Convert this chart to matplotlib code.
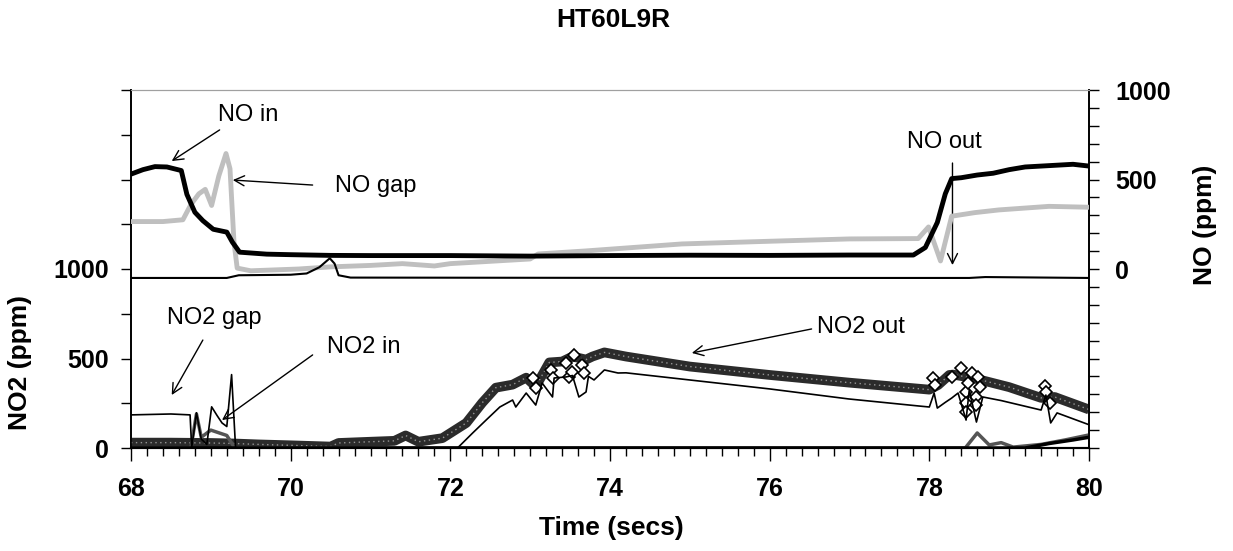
import matplotlib
matplotlib.use('Agg')
import matplotlib.pyplot as plt
from matplotlib import font_manager
from matplotlib.ticker import MultipleLocator, FixedLocator

# NO (ppm), right axis - upper trace
no_t = [68.0, 68.15, 68.3, 68.45, 68.63, 68.7, 68.8, 68.9, 69.03, 69.2, 69.27, 69.36, 69.7,
        70.0, 70.5, 71.0, 72.0, 73.0, 74.0, 75.0, 76.0, 77.0, 77.8, 77.95, 78.1, 78.2, 78.28,
        78.4, 78.6, 78.8, 79.0, 79.2, 79.4, 79.6, 79.8, 80.0]
no_in_out = [530, 555, 572, 570, 550, 417, 317, 270, 222, 206, 150, 94, 83,
             80, 76, 75, 75, 72, 75, 77, 76, 78, 78, 120, 260, 420, 505,
             510, 525, 535, 555, 570, 575, 580, 585, 575]

gap_t = [68.0, 68.4, 68.65, 68.75, 68.85, 68.93, 69.01, 69.1, 69.19, 69.24, 69.29, 69.33,
         69.5, 70.1, 70.5, 71.0, 71.4, 71.8, 72.0, 73.0, 73.1, 73.7, 74.9, 76.0, 77.0, 77.86,
         77.99, 78.14, 78.28, 78.57, 78.87, 79.5, 80.0]
no_gap = [265, 265, 275, 360, 420, 445, 355, 520, 645, 560, 150, 5,
          -10, 0, 12, 20, 30, 17, 30, 56, 84, 101, 140, 155, 168, 170,
          235, 45, 295, 315, 330, 350, 345]

base_t = [68.0, 69.2, 69.35, 70.0, 70.2, 70.36, 70.49, 70.55, 70.6, 70.75, 75.0, 78.5, 78.7, 80.0]
no_base = [-50, -50, -35, -32, -25, 10, 60, 30, -35, -48, -50, -50, -45, -50]

# NO2 (ppm), left axis - lower traces
out_t = [68.0, 68.5, 69.0, 69.3, 69.6, 70.0, 70.5, 70.6, 71.0, 71.3, 71.44, 71.6, 71.9, 72.2,
         72.4, 72.57, 72.78, 72.95, 73.07, 73.24, 73.4, 73.53, 73.7, 73.78, 73.93, 74.2, 75.0,
         76.0, 77.0, 77.9, 78.0, 78.11, 78.25, 78.3, 78.55, 78.7, 79.0, 79.4, 79.57, 80.0]
no2_out = [30, 30, 28, 25, 20, 15, 8, 28, 35, 40, 70, 35, 55, 140,
           253, 337, 354, 393, 343, 478, 483, 511, 494, 511, 534, 511, 455,
           408, 365, 330, 326, 352, 408, 410, 390, 374, 340, 280, 285, 215]

scat_t = [73.03, 73.07, 73.26, 73.28, 73.45, 73.49, 73.53, 73.55, 73.65, 73.68,
          78.05, 78.07, 78.28, 78.4, 78.46, 78.46, 78.46, 78.49, 78.53, 78.59, 78.59, 78.61,
          78.64, 79.45, 79.46, 79.51]
scat_v = [393, 335, 436, 391, 475, 397, 425, 520, 464, 419,
          391, 352, 397, 447, 313, 251, 200, 363, 419, 285, 240, 397,
          341, 346, 313, 251]

thin_t = [68.0, 68.5, 68.74, 68.76, 68.82, 68.88, 68.95, 69.01, 69.08, 69.14, 69.2, 69.26,
          69.31, 72.09, 72.28, 72.45, 72.62, 72.78, 72.82, 72.95, 73.07, 73.15, 73.28, 73.3,
          73.45, 73.53, 73.61, 73.7, 73.73, 73.8, 73.93, 74.1, 74.2, 75.0, 76.0, 76.99, 77.86,
          78.0, 78.06, 78.1, 78.2, 78.28, 78.36, 78.46, 78.5, 78.59, 78.67, 78.9, 79.4, 79.46,
          79.52, 79.6, 80.0]
no2_thin = [185, 190, 185, 0, 197, 50, 20, 230, 180, 140, 120, 410,
            0, 0, 84, 157, 229, 268, 229, 307, 240, 363, 285, 391,
            397, 405, 285, 313, 400, 380, 436, 419, 420, 380, 330, 274, 235,
            229, 307, 223, 255, 279, 307, 156, 324, 145, 285, 265, 212, 296,
            140, 196, 130]

in_t = [68.0, 68.75, 68.82, 68.88, 69.0, 69.1, 69.2, 69.3, 78.45, 78.6, 78.75, 78.9, 79.05,
        79.4, 79.7, 80.0]
no2_in = [0, 0, 190, 60, 100, 85, 70, 0, 0, 84, 17, 30, 5, 20, 45, 73]

zero_t = [68.0, 79.2, 79.5, 79.8, 80.0]
no2_zero = [0, 0, 25, 45, 60]

names = {f.name for f in font_manager.fontManager.ttflist}
if 'Liberation Sans Narrow' in names:
    note_font = dict(family='Liberation Sans Narrow', size=20)
else:
    note_font = dict(family='Liberation Sans', size=17)

plt.rcParams['font.family'] = ['Liberation Sans', 'DejaVu Sans']

fig = plt.figure(figsize=(12.33, 5.51), dpi=100)
ax = fig.add_axes([131 / 1233, 103 / 551, 958 / 1233, 358 / 551])
ax2 = ax.twinx()

ax.set_xlim(68, 80)
ax.set_ylim(0, 2000)
ax2.set_ylim(-1000, 1000)

# lower panel, NO2
ax.plot(out_t, no2_out, color='#2b2b2b', lw=7, solid_capstyle='butt', zorder=3)
ax.plot(out_t, no2_out, color='white', lw=1, ls=(0, (1, 2.5)), alpha=0.5, zorder=4)
ax.plot(scat_t, scat_v, ls='none', marker='D', ms=6, mfc='white', mec='black', mew=1.2, zorder=5)
ax.plot(thin_t, no2_thin, color='black', lw=1.2, zorder=6)
ax.plot(in_t, no2_in, color='#555555', lw=2.5, zorder=5)
ax.plot(zero_t, no2_zero, color='black', lw=2.5, zorder=6)

# upper panel, NO
ax2.plot(gap_t, no_gap, color='#bfbfbf', lw=3.5, zorder=3)
ax2.plot(no_t, no_in_out, color='black', lw=3.5, zorder=4)
ax2.plot(base_t, no_base, color='black', lw=1.5, zorder=5)

# ticks
ax.xaxis.set_major_locator(MultipleLocator(2))
ax.xaxis.set_minor_locator(MultipleLocator(0.2))
ax.tick_params(axis='x', which='major', length=9, width=1, direction='out', labelsize=18, pad=12)
ax.tick_params(axis='x', which='minor', length=6, width=1, direction='out')
ax.yaxis.set_major_locator(FixedLocator([0, 500, 1000]))
ax.yaxis.set_minor_locator(FixedLocator([250, 750, 1250, 1500, 1750, 2000]))
ax.tick_params(axis='y', which='both', length=7, width=1, direction='out', labelsize=18, pad=9)
ax2.yaxis.set_major_locator(FixedLocator([0, 500, 1000]))
ax2.yaxis.set_minor_locator(MultipleLocator(100))
ax2.tick_params(axis='y', which='both', length=7, width=1, direction='out', labelsize=18, pad=12)
for lab in ax.get_xticklabels() + ax.get_yticklabels() + ax2.get_yticklabels():
    lab.set_fontweight('bold')

for a in (ax, ax2):
    a.spines['top'].set_color('#a0a0a0')
    a.spines['bottom'].set_linewidth(1.5)
    a.spines['left'].set_linewidth(1.2)
    a.spines['right'].set_linewidth(1.2)

# annotations
arrow = dict(arrowstyle='->', lw=1, color='black', shrinkA=0, shrinkB=0, mutation_scale=18)
notes = [
    ('NO in', 69.09, 1860, 'left', (69.11, 1777), (68.51, 1603)),
    ('NO gap', 70.55, 1464, 'left', (70.275, 1469), (69.275, 1497)),
    ('NO out', 78.19, 1709, 'center', (78.29, 1592), (78.29, 1022)),
    ('NO2 gap', 68.45, 726, 'left', (68.9, 603), (68.51, 296)),
    ('NO2 in', 70.45, 564, 'left', (70.275, 520), (69.14, 156)),
    ('NO2 out', 76.59, 676, 'left', (76.525, 665), (75.025, 531)),
]
for txt, tx, ty, ha, start, end in notes:
    ax.text(tx, ty, txt, ha=ha, va='center', zorder=10, **note_font)
    ax.annotate('', xy=end, xytext=start, arrowprops=arrow, zorder=10)

fig.text(613 / 1233, 1 - 20 / 551, 'HT60L9R', ha='center', va='center', fontsize=19, fontweight='bold')
fig.text(611 / 1233, 1 - 528 / 551, 'Time (secs)', ha='center', va='center', fontsize=19, fontweight='bold')
fig.text(20 / 1233, 1 - 362 / 551, 'NO2 (ppm)', ha='center', va='center', rotation=90,
         fontsize=19, fontweight='bold')
fig.text(1205 / 1233, 1 - 225 / 551, 'NO (ppm)', ha='center', va='center', rotation=90,
         fontsize=19, fontweight='bold')

fig.savefig('out.png', dpi=100)
